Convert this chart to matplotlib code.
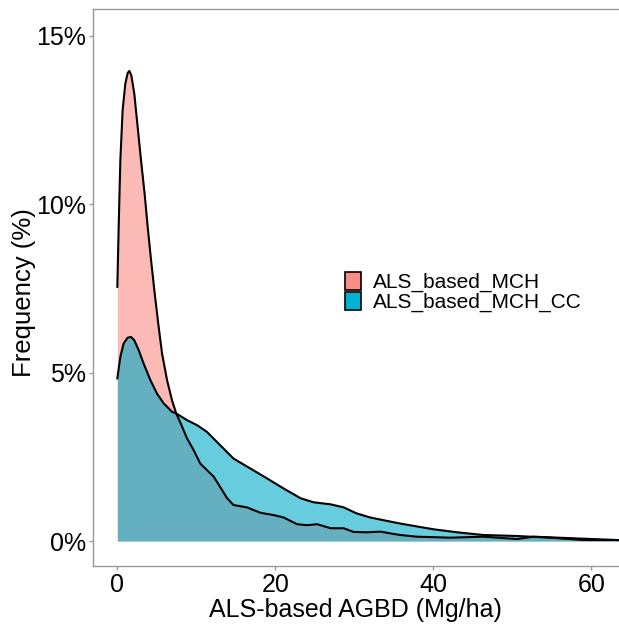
import matplotlib
matplotlib.use("Agg")
import matplotlib.pyplot as plt
from matplotlib.patches import Patch
from matplotlib.ticker import PercentFormatter

plt.rcParams['font.family'] = ['Liberation Sans', 'DejaVu Sans']

# density curves (x in Mg/ha, y in %)
mch_x = [0, 0.17, 0.38, 0.67, 1.01, 1.31, 1.52, 1.77, 2.15, 2.57, 3.0, 3.46, 3.84,
         4.27, 4.73, 5.23, 5.66, 6.29, 6.92, 7.45, 7.97, 8.82, 9.66, 10.5, 12.2,
         13.0, 13.9, 14.7, 16.4, 18.1, 19.8, 21.05, 22.75, 24.0, 25.3, 27.0, 28.65,
         29.9, 31.6, 33.3, 34.97, 35.8, 37.9, 42.2, 46.3, 50.6, 52.7, 56.9, 63.3, 70]
mch_y = [7.55, 9.33, 11.3, 12.8, 13.58, 13.9, 13.96, 13.83, 13.28, 12.3, 11.3, 10.3, 9.33,
         8.34, 7.35, 6.36, 5.57, 4.78, 4.18, 3.79, 3.52, 3.05, 2.7, 2.3, 1.91,
         1.61, 1.27, 1.07, 1.0, 0.84, 0.77, 0.70, 0.5, 0.47, 0.5, 0.38, 0.38,
         0.27, 0.26, 0.28, 0.21, 0.18, 0.13, 0.1, 0.13, 0.06, 0.13, 0.09, 0.03, 0.0]

cc_x = [0, 0.38, 0.8, 1.31, 1.73, 2.15, 2.7, 3.33, 4.18, 5.02, 5.86, 6.92, 7.45,
        8.82, 10.1, 11.35, 13.0, 14.7, 16.8, 18.95, 21.05, 23.2, 24.85, 27.0,
        28.65, 30.3, 32.0, 34.1, 35.8, 38.0, 40.0, 43.0, 46.3, 50.6, 54.8, 59.0,
        63.3, 70]
cc_y = [4.83, 5.47, 5.87, 6.04, 6.06, 5.96, 5.67, 5.27, 4.78, 4.38, 4.09, 3.84, 3.79,
        3.59, 3.44, 3.24, 2.85, 2.45, 2.16, 1.86, 1.56, 1.27, 1.15, 1.09,
        1.0, 0.82, 0.7, 0.6, 0.52, 0.43, 0.35, 0.26, 0.18, 0.15, 0.1, 0.03,
        0.03, 0.0]

labels = ['ALS_based_MCH', 'ALS_based_MCH_CC']
x_ticks = [0, 20, 40, 60]
y_ticks = [0, 5, 10, 15]

fig = plt.figure(figsize=(6.19, 6.24), dpi=100)
ax = fig.add_axes([0.150, 0.093, 0.85, 0.8926])

# MCH first, CC on top (semi transparent)
ax.fill_between(mch_x, 0, mch_y, color='#F8766D', alpha=0.5, linewidth=0)
ax.plot(mch_x, mch_y, color='black', lw=1.5, solid_joinstyle='round')
ax.fill_between(cc_x, 0, cc_y, color='#00AAC8', alpha=0.6, linewidth=0)
ax.plot(cc_x, cc_y, color='black', lw=1.5, solid_joinstyle='round')

ax.set_xlim(-3.1, 63.5)
ax.set_ylim(-0.74, 15.8)
ax.set_xticks(x_ticks)
ax.set_yticks(y_ticks)
ax.yaxis.set_major_formatter(PercentFormatter(decimals=0))

for s in ['left', 'bottom', 'top']:
    ax.spines[s].set_color('#999999')
    ax.spines[s].set_linewidth(1.0)
ax.spines['right'].set_visible(False)
ax.tick_params(length=3, width=1, color='#999999', labelsize=18, labelcolor='black', pad=2)

ax.set_xlabel('ALS-based AGBD (Mg/ha)', fontsize=18, labelpad=1)
ax.set_ylabel('Frequency (%)', fontsize=18.5, labelpad=1)
ax.yaxis.set_label_coords(-0.108, 0.49)

handles = [Patch(facecolor='#FA8E85', edgecolor='black', lw=1.2),
           Patch(facecolor='#00B3D1', edgecolor='black', lw=1.2)]
fig.legend(handles, labels, loc='center left', bbox_to_anchor=(0.558, 0.532),
           frameon=False, fontsize=15, handlelength=0.75, handleheight=0.95,
           handletextpad=0.55, labelspacing=0.0, borderpad=0, borderaxespad=0)

fig.savefig('out.png', dpi=100)
